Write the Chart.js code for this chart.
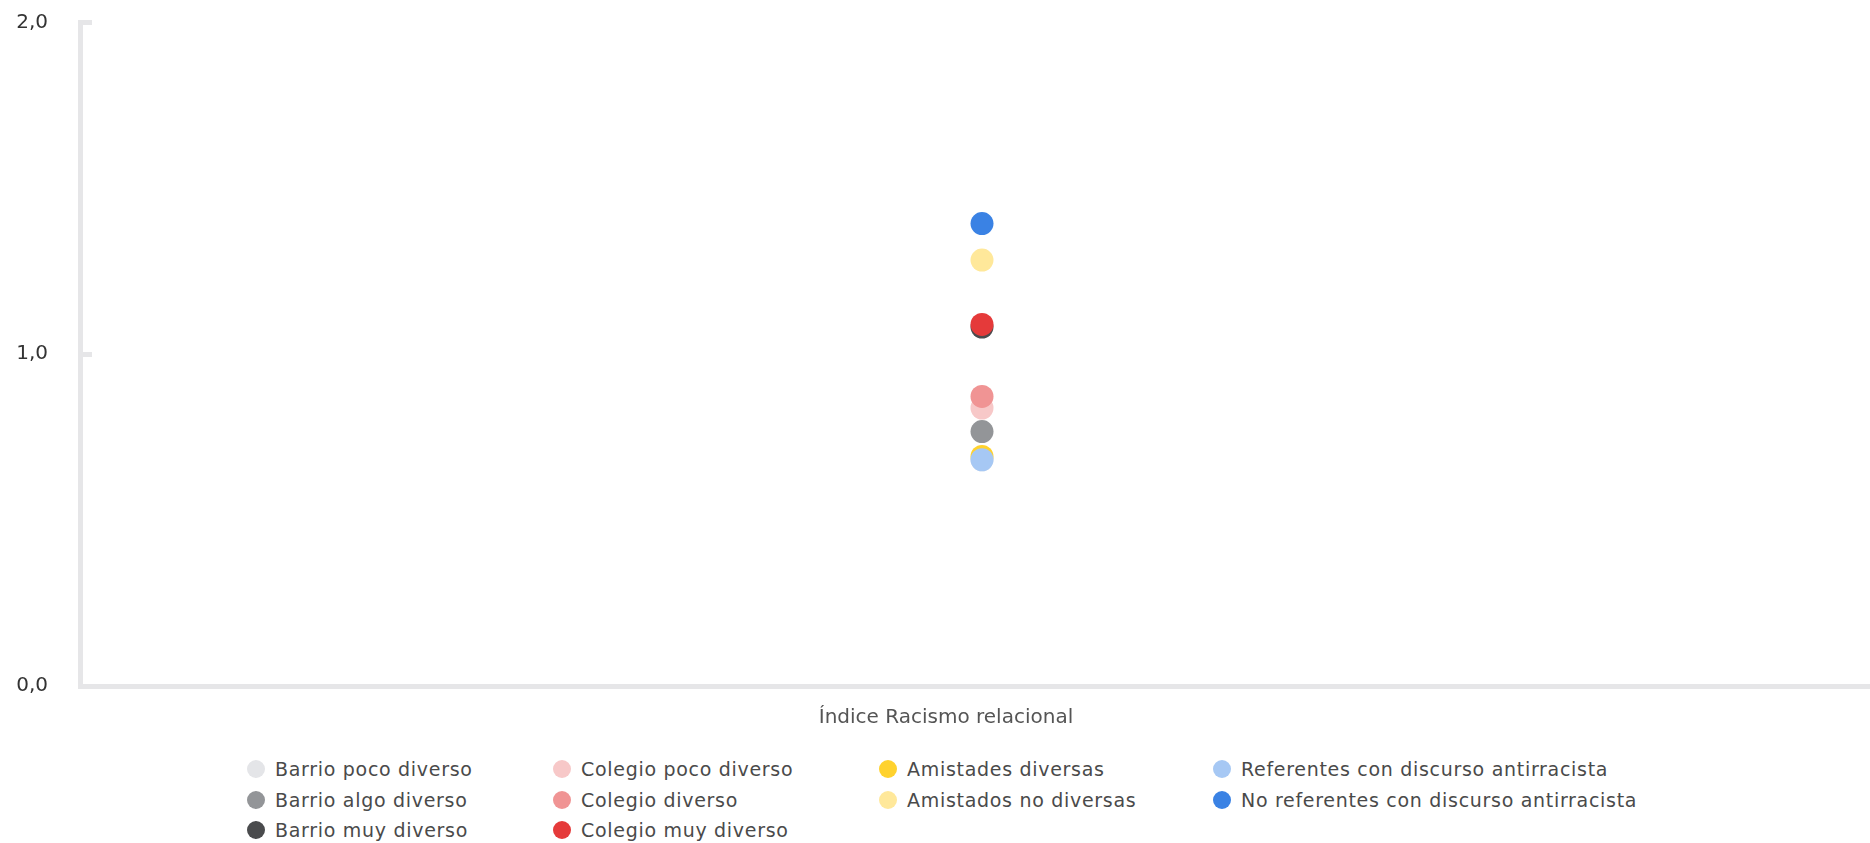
<!DOCTYPE html>
<html>
<head>
<meta charset="utf-8">
<script src="https://cdn.jsdelivr.net/npm/chart.js@4.4.1/dist/chart.umd.min.js"></script>
<style>
html,body{margin:0;padding:0;background:#fff;overflow:hidden;}
body{width:1870px;height:843px;position:relative;font-family:'DejaVu Sans',sans-serif;}
#wrap{position:absolute;left:0;top:0;width:1884px;height:750px;}
#legend{position:absolute;left:247px;top:754px;display:flex;}
.col{display:flex;flex-direction:column;}
.col:nth-child(1){width:306px}
.col:nth-child(2){width:326px}
.col:nth-child(3){width:334px}
.item{height:30.5px;display:flex;align-items:center;font-size:19px;color:#4a4a4a;white-space:nowrap;letter-spacing:0.7px;}
.dot{width:18px;height:18px;border-radius:50%;margin-right:10px;flex:none;}
</style>
</head>
<body>
<div id="wrap"><canvas id="c"></canvas></div>
<div id="legend"></div>
<script>
// ---- data ----
const categories = ['Índice Racismo relacional'];
const yTickValues = [0, 1, 2];

const barrioSeries = ['Barrio poco diverso', 'Barrio algo diverso', 'Barrio muy diverso'];
const barrioValues = [0.682, 0.767, 1.082];

const colegioSeries = ['Colegio poco diverso', 'Colegio diverso', 'Colegio muy diverso'];
const colegioValues = [0.838, 0.873, 1.090];

const amistadesSeries = ['Amistades diversas', 'Amistados no diversas'];
const amistadesValues = [0.692, 1.284];

const referentesSeries = ['Referentes con discurso antirracista', 'No referentes con discurso antirracista'];
const referentesValues = [0.682, 1.394];

// ---- styles ----
const barrioColors = ['#e4e5e8', '#939598', '#4a4b4d'];
const colegioColors = ['#f7c8c8', '#f09494', '#e53a3a'];
const amistadesColors = ['#ffd22e', '#ffe89a'];
const referentesColors = ['#a6c8f4', '#3a82e4'];

const groups = [
  {names: barrioSeries, values: barrioValues, colors: barrioColors},
  {names: colegioSeries, values: colegioValues, colors: colegioColors},
  {names: amistadesSeries, values: amistadesValues, colors: amistadesColors},
  {names: referentesSeries, values: referentesValues, colors: referentesColors}
];

const FONT = "'DejaVu Sans', sans-serif";
const datasets = [];
groups.forEach(g => {
  g.names.forEach((name, k) => {
    const i = datasets.length;
    datasets.push({
      label: name,
      data: [g.values[k]],
      backgroundColor: g.colors[k],
      borderColor: g.colors[k],
      pointBackgroundColor: g.colors[k],
      pointBorderColor: g.colors[k],
      pointRadius: 11.5,
      pointHoverRadius: 11.5,
      pointBorderWidth: 0,
      showLine: false,
      order: -i
    });
  });
});

const chart = new Chart(document.getElementById('c'), {
  type: 'line',
  data: {labels: categories, datasets: datasets},
  options: {
    responsive: true,
    maintainAspectRatio: false,
    animation: false,
    layout: {autoPadding: false, padding: {top: 22.5, right: 0, left: 0, bottom: 0}},
    plugins: {legend: {display: false}, tooltip: {enabled: false}},
    scales: {
      x: {
        type: 'category',
        offset: true,
        grid: {display: false, drawTicks: false},
        border: {display: true, color: '#e6e6e8', width: 5},
        ticks: {padding: 20, labelOffset: -36, color: '#555555', font: {family: FONT, size: 20}},
        afterFit: s => { s.paddingLeft = 0; s.paddingRight = 0; }
      },
      y: {
        min: 0,
        max: 2,
        afterBuildTicks: s => { s.ticks = yTickValues.map(v => ({value: v})); },
        afterFit: s => { s.width = 80; s.paddingTop = 0; s.paddingBottom = 0; },
        grid: {display: true, drawOnChartArea: false, drawTicks: true, tickLength: -12, color: '#e6e6e8', lineWidth: 5},
        border: {display: true, color: '#e6e6e8', width: 5},
        ticks: {
          padding: 44,
          color: '#333333',
          font: {family: FONT, size: 20},
          callback: v => Number(v).toFixed(1).replace('.', ',')
        }
      }
    }
  }
});

// HTML legend, one column per group
const legend = document.getElementById('legend');
let idx = 0;
groups.forEach(g => {
  const col = document.createElement('div');
  col.className = 'col';
  g.names.forEach(() => {
    const ds = chart.data.datasets[idx++];
    const item = document.createElement('div');
    item.className = 'item';
    const dot = document.createElement('span');
    dot.className = 'dot';
    dot.style.background = ds.backgroundColor;
    const txt = document.createElement('span');
    txt.textContent = ds.label;
    item.appendChild(dot);
    item.appendChild(txt);
    col.appendChild(item);
  });
  legend.appendChild(col);
});
</script>
</body>
</html>
